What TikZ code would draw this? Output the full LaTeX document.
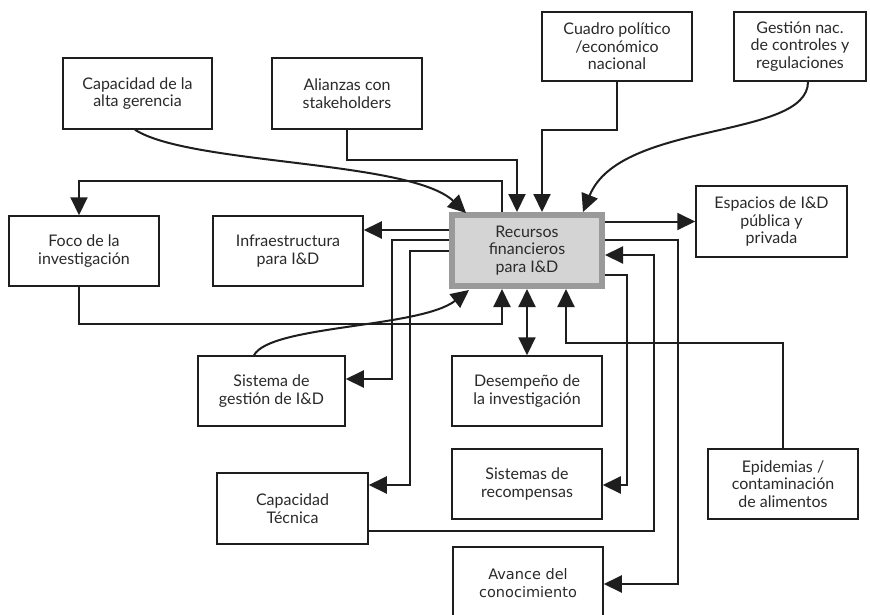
\documentclass[tikz,border=0pt]{standalone}
\usepackage{fontspec}
\setmainfont{Lato}
\newfontfamily\widesans{DejaVu Sans}
\usetikzlibrary{arrows.meta,calc}
\definecolor{inkc}{HTML}{1E1E1E}
\definecolor{textc}{HTML}{2A2A2A}
\definecolor{rimgray}{HTML}{9A9A9A}
\definecolor{coregray}{HTML}{D4D4D4}
\begin{document}
\begin{tikzpicture}[x=1pt,y=-1pt,
  box/.style={draw=inkc, line width=1.5pt, fill=white, align=center, inner sep=0pt,
    font=\fontsize{16}{17.5}\selectfont, text=textc},
  hub/.style={box, draw=rimgray, line width=6pt, fill=coregray},
  arr/.style={draw=inkc, line width=2pt, -{Triangle[length=18pt,width=17pt]}},
  dbl/.style={draw=inkc, line width=2pt, {Triangle[length=18pt,width=17pt]}-{Triangle[length=18pt,width=17pt]}}]
\useasboundingbox[fill=white] (0,0) rectangle (870,614);

% boxes
\node[box, minimum width=149pt, minimum height=71pt] (cap) at (137.5,93.5) {Capacidad de la\\alta gerencia};
\node[box, minimum width=150pt, minimum height=71pt] (ali) at (347,93.5) {Alianzas con\\stakeholders};
\node[box, minimum width=150pt, minimum height=69pt] (cua) at (617,46.5) {Cuadro político\\/económico\\nacional};
\node[box, minimum width=132pt, minimum height=69pt] (ges) at (800,46.5) {Gestión nac.\\de controles y\\regulaciones};
\node[box, minimum width=150pt, minimum height=70pt] (foco) at (84,251) {Foco de la\\investigación};
\node[box, minimum width=150pt, minimum height=70pt] (inf) at (288,251) {Infraestructura\\para I\&D};
\node[hub, minimum width=150pt, minimum height=71pt] (cen) at (527,250.5) {Recursos\\financieros\\para I\&D};
\node[box, minimum width=151pt, minimum height=71pt] (esp) at (771.5,221.5) {Espacios de I\&D\\pública y\\privada};
\node[box, minimum width=147pt, minimum height=70pt] (sgi) at (271.5,391) {Sistema de\\gestión de I\&D};
\node[box, minimum width=150pt, minimum height=70pt] (des) at (527,391) {Desempeño de\\la investigación};
\node[box, minimum width=150pt, minimum height=70pt] (rec) at (527,484) {Sistemas de\\recompensas};
\node[box, minimum width=151pt, minimum height=71pt] (tec) at (292.5,508.5) {Capacidad\\Técnica};
\node[box, minimum width=150pt, minimum height=70pt] (epi) at (783,484) {Epidemias /\\contaminación\\de alimentos};
% this box runs past the lower edge of the page
\node[box, minimum width=150pt, minimum height=72pt, font=\widesans\fontsize{14.5}{18}\selectfont] (ava) at (528,583) {Avance del\\conocimiento};

% bend points of the orthogonal connectors
\coordinate (k5)  at (502,181);
\coordinate (k6)  at (0,230);
\coordinate (k7)  at (392,240);
\coordinate (k7b) at (392,379);
\coordinate (k8)  at (410,251);
\coordinate (k8b) at (410,485);
\coordinate (k9)  at (502,324);
\coordinate (k12) at (566,343);
\coordinate (k14) at (678,240);
\coordinate (k14b) at (678,584);
\coordinate (k15) at (654,531);
\coordinate (k15b) at (654,255);
\coordinate (k16) at (627,275);
\coordinate (k16b) at (627,485);

% inputs from the top
\draw[arr] ([xshift=-2.5pt]cap.south) .. controls (190,165) and (410,160) .. ($(cen.north west)+(17,1)$);
\draw[arr] (ali.south) -- ++(0,30) -| ([xshift=-10pt]cen.north);
\draw[arr] (cua.south) -- ++(0,48) -| ([xshift=15pt]cen.north);
\draw[arr] ([xshift=8pt]ges.south) .. controls (808,140) and (620,120) .. ([xshift=56pt]cen.north);

% outputs to the left
\draw[arr] (cen.north -| k5) -- (k5) -| ([xshift=-5pt]foco.north);
\draw[arr] (cen.west |- k6) -- (inf.east |- k6);
\draw[arr] (cen.west |- k7) -- (k7) -- (k7b) -- (sgi.east |- k7b);
\draw[arr] (cen.west |- k8) -- (k8) -- (k8b) -- (tec.east |- k8b);

% inputs from below
\draw[arr] ([xshift=-5pt]foco.south) |- (k9) -- (cen.south -| k9);
\draw[arr] ([xshift=-17.5pt]sgi.north) .. controls (270,325) and (420,328) .. ($(cen.south west)+(20,1)$);
\draw[dbl] (cen.south) -- (des.north);
\draw[arr] (epi.north) |- (k12) -- (cen.south -| k12);

% connections on the right
\draw[arr] (cen.east |- esp.west) -- (esp.west);
\draw[arr] (cen.east |- k14) -- (k14) |- (ava.east |- k14b);
\draw[arr] (tec.east |- k15) -| (k15b) -- (cen.east |- k15b);
\draw[arr] (cen.east |- k16) -- (k16) |- (rec.east |- k16b);
\end{tikzpicture}
\end{document}
